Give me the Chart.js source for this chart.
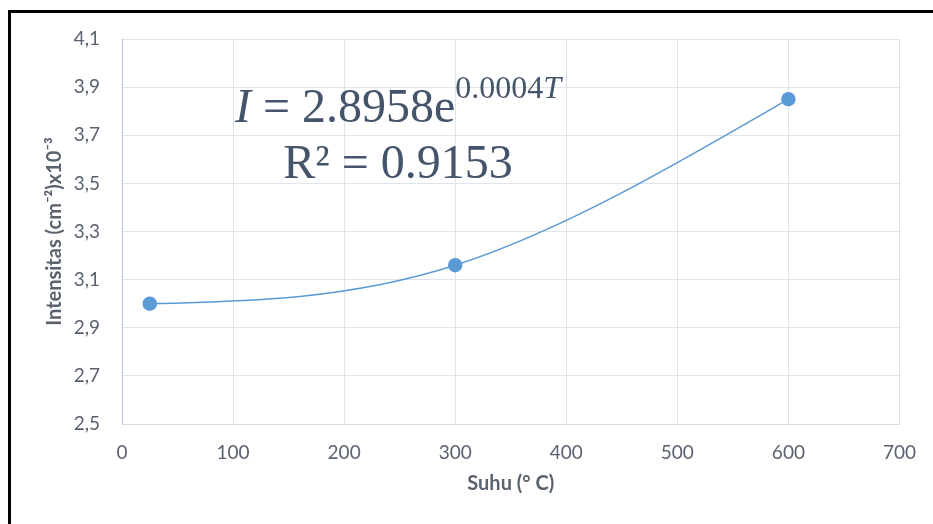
<!DOCTYPE html>
<html>
<head>
<meta charset="utf-8">
<script src="https://cdn.jsdelivr.net/npm/chart.js@4/dist/chart.umd.min.js"></script>
<style>
  html, body { margin: 0; padding: 0; background: #fff; }
  #wrap { position: relative; width: 933px; height: 524px; overflow: hidden; }
  #frame {
    position: absolute; left: 8px; top: 10px; width: 1000px; height: 600px;
    border-top: 3px solid #000; border-left: 3px solid #000;
  }
  canvas { position: absolute; left: 0; top: 0; }
</style>
</head>
<body>
<div id="wrap">
  <div id="frame"></div>
  <canvas id="chart" width="933" height="524"></canvas>
</div>
<script>
const suhu = [25, 300, 600];
const intensitas = [3.0, 3.16, 3.85];
const xTicks = [0, 100, 200, 300, 400, 500, 600, 700];
const yTicks = [2.5, 2.7, 2.9, 3.1, 3.3, 3.5, 3.7, 3.9, 4.1];
const eqMain = "2.8958e";
const eqExp = "0.0004";
const r2Text = "R² = 0.9153";

const tickColor = "#5a6270";
const gridColor = "#dfe3ea";
const seriesColor = "#5b9bd5";

// smoothed line like the spreadsheet: catmull-rom tangents inside, natural ends
const smoothLine = {
  id: "smoothLine",
  beforeDatasetDraw(chart, args) {
    const meta = args.meta;
    const pts = meta.data;
    const n = pts.length;
    if (!meta.dataset || n < 3) return;
    const m = pts.map(() => ({ x: 0, y: 0 }));
    for (let i = 1; i < n - 1; i++) {
      m[i].x = (pts[i + 1].x - pts[i - 1].x) / 2;
      m[i].y = (pts[i + 1].y - pts[i - 1].y) / 2;
    }
    m[0].x = (3 * (pts[1].x - pts[0].x) - m[1].x) / 2;
    m[0].y = (3 * (pts[1].y - pts[0].y) - m[1].y) / 2;
    m[n - 1].x = (3 * (pts[n - 1].x - pts[n - 2].x) - m[n - 2].x) / 2;
    m[n - 1].y = (3 * (pts[n - 1].y - pts[n - 2].y) - m[n - 2].y) / 2;
    pts.forEach((p, i) => {
      p.cp1x = p.x - m[i].x / 3;
      p.cp1y = p.y - m[i].y / 3;
      p.cp2x = p.x + m[i].x / 3;
      p.cp2y = p.y + m[i].y / 3;
    });
    meta.dataset._pointsUpdated = true;
    meta.dataset._path = undefined;
  },
};

const equationLabel = {
  id: "equationLabel",
  afterDatasetsDraw(chart) {
    const ctx = chart.ctx;
    const cx = 398;
    ctx.save();
    ctx.fillStyle = "#44546a";
    ctx.textBaseline = "alphabetic";
    const big = "48px 'Liberation Serif'";
    const bigItalic = "italic 48px 'Liberation Serif'";
    const small = "32px 'Liberation Serif'";
    const smallItalic = "italic 32px 'Liberation Serif'";
    const parts = [
      [bigItalic, "I", 0],
      [big, " = " + eqMain, 0],
      [small, eqExp, -24],
      [smallItalic, "T", -24],
    ];
    let total = 0;
    parts.forEach(p => { ctx.font = p[0]; total += ctx.measureText(p[1]).width; });
    let x = cx - total / 2;
    parts.forEach(p => {
      ctx.font = p[0];
      ctx.fillText(p[1], x, 122 + p[2]);
      x += ctx.measureText(p[1]).width;
    });
    ctx.font = big;
    ctx.textAlign = "center";
    ctx.fillText(r2Text, cx, 178);
    ctx.restore();
  },
};

new Chart(document.getElementById("chart"), {
  type: "scatter",
  data: {
    datasets: [
      {
        data: suhu.map((t, i) => ({ x: t, y: intensitas[i] })),
        showLine: true,
        tension: 0.4,
        borderColor: seriesColor,
        borderWidth: 1.5,
        backgroundColor: seriesColor,
        pointRadius: 6.5,
        pointHoverRadius: 6.5,
        pointBorderColor: seriesColor,
      },
    ],
  },
  options: {
    responsive: false,
    animation: false,
    layout: { padding: { top: 39, right: 31, bottom: 20, left: 36 } },
    plugins: { legend: { display: false }, tooltip: { enabled: false } },
    scales: {
      x: {
        type: "linear",
        min: 0,
        max: 700,
        afterBuildTicks: s => { s.ticks = xTicks.map(v => ({ value: v })); },
        afterFit: s => { s.height = 80; },
        grid: { color: gridColor, drawTicks: false },
        border: { color: "#d6dbe4" },
        ticks: {
          color: tickColor,
          padding: 17,
          font: { family: "Lato", size: 19 },
          callback: v => String(v),
        },
        title: {
          display: true,
          text: "Suhu (° C)",
          color: tickColor,
          padding: { top: 0, bottom: 8 },
          font: { family: "Lato", size: 20, weight: "bold" },
        },
      },
      y: {
        min: 2.5,
        max: 4.1,
        afterBuildTicks: s => { s.ticks = yTicks.map(v => ({ value: v })); },
        afterFit: s => { s.width = 86; },
        grid: { color: gridColor, drawTicks: false },
        border: { color: "#b4c2dc" },
        ticks: {
          color: tickColor,
          padding: 22,
          font: { family: "Lato", size: 19 },
          callback: v => v.toFixed(1).replace(".", ","),
        },
        title: {
          display: true,
          text: "Intensitas (cm⁻²)x10⁻³",
          color: tickColor,
          padding: { top: 7, bottom: 0 },
          font: { family: "Lato", size: 20, weight: "bold" },
        },
      },
    },
  },
  plugins: [smoothLine, equationLabel],
});
</script>
</body>
</html>
